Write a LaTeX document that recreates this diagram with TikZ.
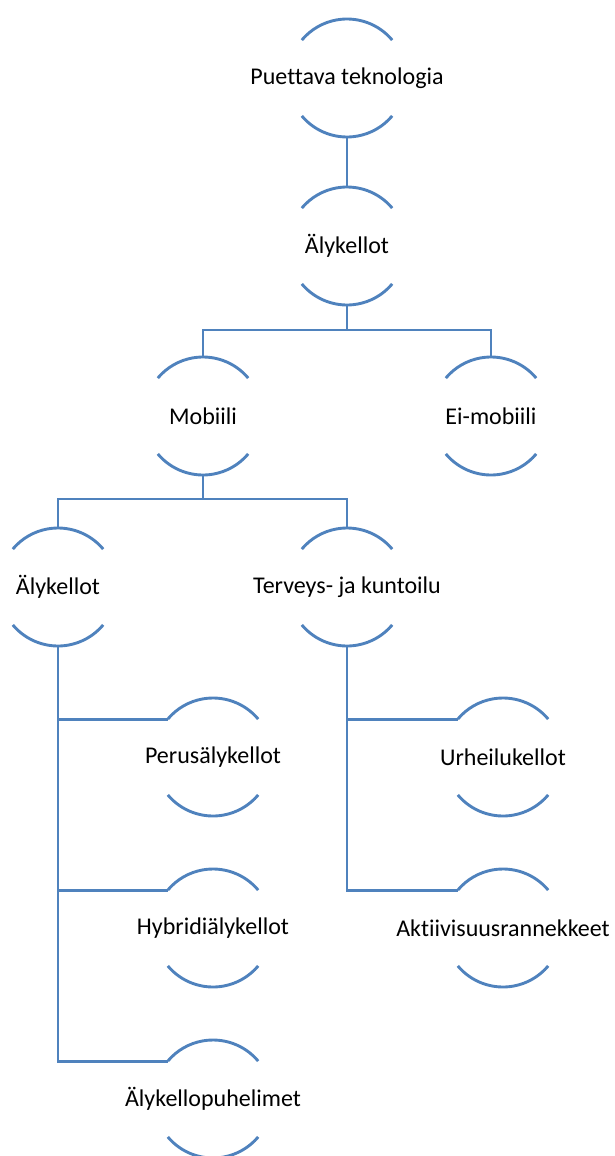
\documentclass[tikz,border=0pt]{standalone}
\usepackage{fontspec}
\setmainfont{Carlito}[RawFeature={-liga;-calt;-clig}]
\usepackage{tikz}
\usetikzlibrary{%
	calc,%
	positioning%
}
\definecolor{office-blue}{rgb}{0.31, 0.51, 0.74}

% one element of the tree: text with an arc above and below
\newcommand{\arcnode}[3]{%
	\node[arctext] (#1) at (#2) {#3};
	\draw[arcline] ($(#1)+(40:59pt)$) arc[start angle=40, end angle=140, radius=59pt];
	\draw[arcline] ($(#1)+(220:59pt)$) arc[start angle=220, end angle=320, radius=59pt];
	\coordinate (#1-t) at ($(#1)+(0,59pt)$);
	\coordinate (#1-b) at ($(#1)+(0,-59pt)$);
	\coordinate (#1-w) at ($(#1)+(140:59pt)$);
}

\begin{document}
\begin{tikzpicture}[x=1pt, y=1pt,
		arctext/.style={inner sep=0pt, font=\fontsize{24}{28}\selectfont},
		arcline/.style={office-blue, line width=2.9pt},
		link/.style={office-blue, line width=2.9pt}
	]
	\useasboundingbox (0,0) rectangle (614,-1156);

	% Nodes
	\arcnode{root}{347,-78}{Puettava teknologia}
	\arcnode{smart}{347,-246}{Älykellot}
	\arcnode{mob}{203,-416}{Mobiili}
	\arcnode{ei}{491,-416}{Ei-mobiili}
	\arcnode{aly}{58,-587}{Älykellot}
	\arcnode{terv}{347,-587}{Terveys- ja kuntoilu}
	\arcnode{perus}{213,-757}{Perusälykellot}
	\arcnode{hybr}{213,-928}{Hybridiälykellot}
	\arcnode{puh}{213,-1099}{Älykellopuhelimet}
	\arcnode{urh}{503,-757}{Urheilukellot}
	\arcnode{akt}{503,-928}{Aktiivisuusrannekkeet}

	% Connectors
	\draw[link] (root-b) -- (smart-t);
	\draw[link] (smart-b) -- ++(0,-25) coordinate (j1);
	\draw[link] (j1) -| (mob-t);
	\draw[link] (j1) -| (ei-t);
	\draw[link] (mob-b) -- ++(0,-24) coordinate (j2);
	\draw[link] (j2) -| (aly-t);
	\draw[link] (j2) -| (terv-t);
	\draw[link] (aly-b) |- (perus-w);
	\draw[link] (aly-b) |- (hybr-w);
	\draw[link] (aly-b) |- (puh-w);
	\draw[link] (terv-b) |- (urh-w);
	\draw[link] (terv-b) |- (akt-w);
\end{tikzpicture}
\end{document}
